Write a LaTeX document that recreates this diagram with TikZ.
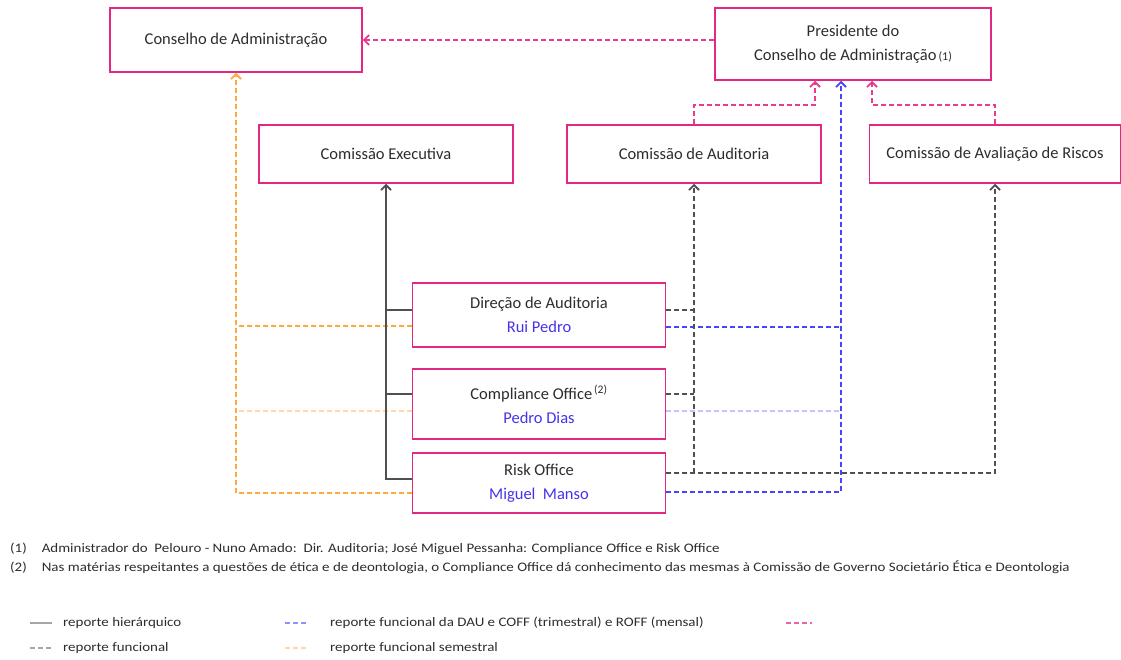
\documentclass[tikz,border=0pt]{standalone}
\usepackage{fontspec}
\setmainfont{Carlito}
\usetikzlibrary{arrows.meta}

\definecolor{boxpink}{RGB}{226,40,130}
\definecolor{lnpink}{RGB}{232,60,140}
\definecolor{lnblue}{RGB}{70,70,250}
\definecolor{lnlblue}{RGB}{195,195,255}
\definecolor{lnorange}{RGB}{255,170,60}
\definecolor{lnlorange}{RGB}{255,215,170}
\definecolor{lngray}{RGB}{80,80,80}
\definecolor{txtgray}{RGB}{45,45,45}
\definecolor{namblue}{RGB}{70,50,235}
% stretched small text (notes, legend)
\newcommand{\widetxt}[1]{\scalebox{1.15}[1]{#1}}

\begin{document}
\begin{tikzpicture}[x=1pt, y=-1pt,
  every node/.style={font=\fontsize{16.5}{24}\selectfont, text=txtgray},
  box/.style={draw=boxpink, line width=1.5pt, fill=white, inner sep=0pt, align=center},
  tip/.style={-{Straight Barb[length=5pt,width=10pt]}},
  hier/.style={draw=lngray, line width=1.8pt},
  func/.style={draw=lngray, line width=1.8pt, dash pattern=on 5pt off 3pt},
  trim/.style={draw=lnblue, line width=1.8pt, dash pattern=on 5pt off 3pt},
  triml/.style={draw=lnlblue, line width=1.8pt, dash pattern=on 5pt off 3pt},
  sem/.style={draw=lnorange, line width=1.8pt, dash pattern=on 5pt off 3pt},
  seml/.style={draw=lnlorange, line width=1.8pt, dash pattern=on 5pt off 3pt},
  pres/.style={draw=lnpink, line width=1.8pt, dash pattern=on 5pt off 3pt},
  note/.style={anchor=west, inner sep=0pt, font=\fontsize{13}{15}\selectfont}]
% canvas
\useasboundingbox (0,0) rectangle (1121,659);
% boxes
\node[box, minimum width=252pt, minimum height=64pt] (ca) at (236,40) {Conselho de Administração};
\node[box, minimum width=276pt, minimum height=72pt] (pca) at (853,44)
  {Presidente do\\Conselho de Administração{\fontsize{12}{14}\selectfont\,(1)}};
\node[box, minimum width=254pt, minimum height=58pt] (ce) at (386,154) {Comissão Executiva};
\node[box, minimum width=254pt, minimum height=58pt] (cau) at (694,154) {Comissão de Auditoria};
\node[box, minimum width=251pt, minimum height=58pt] (car) at (995,154) {Comissão de Avaliação de Riscos};
\node[box, minimum width=253pt, minimum height=64pt] (dau) at (539,315)
  {Direção de Auditoria\\\textcolor{namblue}{Rui Pedro}};
\node[box, minimum width=253pt, minimum height=70pt] (coff) at (539,404)
  {Compliance Office\textsuperscript{\,(2)}\\\textcolor{namblue}{Pedro Dias}};
\node[box, minimum width=253pt, minimum height=60pt] (roff) at (539,483)
  {Risk Office\\\textcolor{namblue}{Miguel\ \ Manso}};
% attach points
\coordinate (pcaL) at ([xshift=-38pt]pca.south);
\coordinate (pcaB) at ([xshift=-12pt]pca.south);
\coordinate (pcaR) at ([xshift=19pt]pca.south);
\coordinate (dauH) at ([yshift=5pt]dau.west);
\coordinate (coffH) at ([yshift=10pt]coff.west);
\coordinate (roffH) at ([yshift=4pt]roff.west);
\coordinate (dauS) at ([yshift=-11pt]dau.west);
\coordinate (coffS) at ([yshift=-7pt]coff.west);
\coordinate (roffS) at ([yshift=-10pt]roff.west);
\coordinate (dauF) at ([yshift=5pt]dau.east);
\coordinate (coffF) at ([yshift=10pt]coff.east);
\coordinate (roffF) at ([yshift=10pt]roff.east);
\coordinate (dauT) at ([yshift=-12pt]dau.east);
\coordinate (coffT) at ([yshift=-7pt]coff.east);
\coordinate (roffT) at ([yshift=-9pt]roff.east);
% pink: presidente
\draw[pres, tip] (ca.east -| pca.west) -- (ca.east);
\draw[pres, tip] (cau.north) -- ++(0,-19) -| (pcaL);
\draw[pres, tip] (car.north) -- ++(0,-19) -| (pcaR);
% orange: semestral
\draw[seml] (coffS) -- (coffS -| ca.south);
\draw[sem] (dauS) -- (dauS -| ca.south);
\draw[sem, tip] (roffS) -| (ca.south);
% solid: hierarquico
\draw[hier] (dauH) -- (dauH -| ce.south);
\draw[hier] (coffH) -- (coffH -| ce.south);
\draw[hier, tip] (roffH) -| (ce.south);
% blue: trimestral / mensal
\draw[triml] (coffT) -- (coffT -| pcaB);
\draw[trim] (dauT) -- (dauT -| pcaB);
\draw[trim, tip] (roffT) -| (pcaB);
% gray: funcional
\draw[func] (dauF) -- (dauF -| cau.south);
\draw[func] (coffF) -- (coffF -| cau.south);
\draw[func, tip] (roffF -| cau.south) -- (cau.south);
\draw[func, tip] (roffF) -| (car.south);
% notes
\node[note] (n1) at (10,549) {\widetxt{(1)\quad Administrador do\ \ Pelouro - Nuno Amado:\ \ Dir. Auditoria; José Miguel Pessanha: Compliance Office e Risk Office}};
\node[note] (n2) at (10,567) {\widetxt{(2)\quad Nas matérias respeitantes a questões de ética e de deontologia, o Compliance Office dá conhecimento das mesmas à Comissão de Governo Societário Ética e Deontologia}};
% legend
\draw[hier, draw=gray!70] (30,623) -- (52,623);
\draw[func, draw=gray!70] (30,648) -- (52,648);
\draw[triml, draw=lnblue!60] (285,623) -- (307,623);
\draw[seml] (285,648) -- (307,648);
\draw[pres, draw=lnpink!80] (786,623) -- (812,623);
\node[note] (l1) at (63,623) {\widetxt{reporte hierárquico}};
\node[note] (l2) at (63,648) {\widetxt{reporte funcional}};
\node[note] (l3) at (330,623) {\widetxt{reporte funcional da DAU e COFF (trimestral) e ROFF (mensal)}};
\node[note] (l4) at (330,648) {\widetxt{reporte funcional semestral}};
\end{tikzpicture}
\end{document}
